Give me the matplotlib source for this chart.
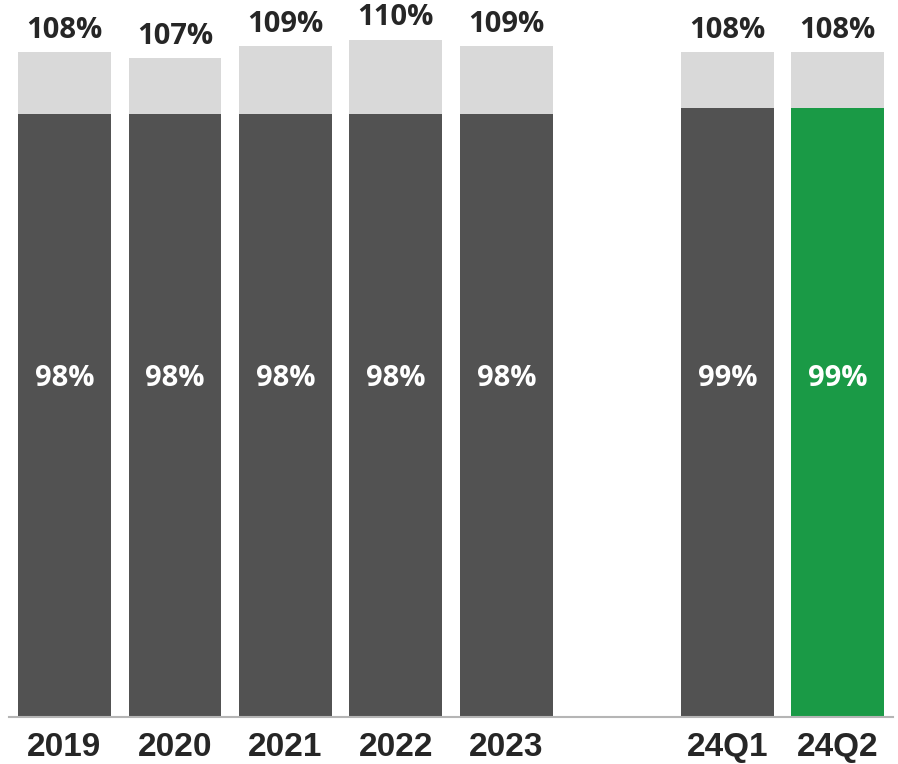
import matplotlib
matplotlib.use("Agg")
import matplotlib.pyplot as plt

categories = ["2019", "2020", "2021", "2022", "2023", "24Q1", "24Q2"]
positions = [0, 1, 2, 3, 4, 6, 7]
inner_values = [98, 98, 98, 98, 98, 99, 99]
outer_values = [108, 107, 109, 110, 109, 108, 108]
inner_labels = ["98%", "98%", "98%", "98%", "98%", "99%", "99%"]
outer_labels = ["108%", "107%", "109%", "110%", "109%", "108%", "108%"]

dark = "#525252"
light = "#d9d9d9"
green = "#1a9a46"
text_dark = "#262626"
inner_colors = [dark] * 6 + [green]

fig = plt.figure(figsize=(8.98, 7.64), dpi=100)
ax = fig.add_axes([9.25 / 898, 47 / 764, (893 - 9.25) / 898, 717 / 764])

w = 0.84
ax.bar(positions, outer_values, width=w, color=light, zorder=1)
ax.bar(positions, inner_values, width=w, color=inner_colors, zorder=2)

for p, ov, ol, il in zip(positions, outer_values, outer_labels, inner_labels):
    ax.text(p, ov + 3.6, ol, ha="center", va="center", fontsize=21,
            fontweight="bold", family="Open Sans", color=text_dark)
    ax.text(p, 55, il, ha="center", va="center", fontsize=21,
            fontweight="bold", family="Open Sans", color="white", zorder=3)

ax.set_xlim(-0.5, 7.5)
ax.set_ylim(0, 116.5)
ax.set_xticks(positions)
ax.set_xticklabels(categories, fontsize=24, fontweight="bold",
                   family="Liberation Sans", color=text_dark)
ax.tick_params(axis="x", length=0, pad=11)
ax.set_yticks([])
for s in ["top", "right", "left"]:
    ax.spines[s].set_visible(False)
ax.spines["bottom"].set_color("#b5b5b5")
ax.spines["bottom"].set_linewidth(1.5)

fig.savefig("out.png", dpi=100)
